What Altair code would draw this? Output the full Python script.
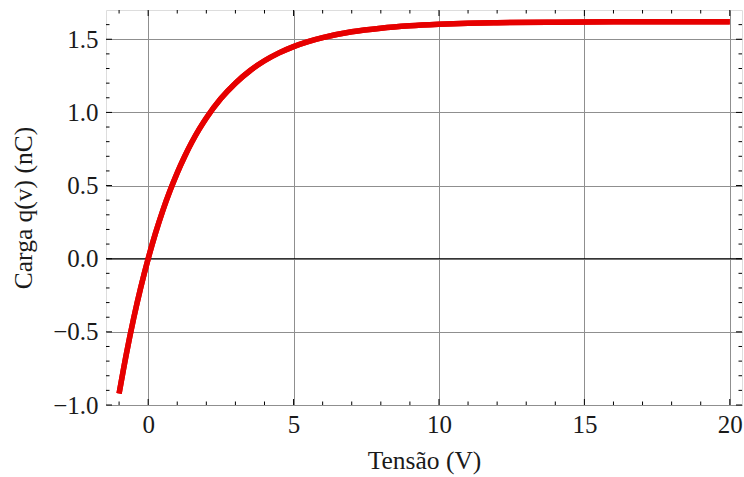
import altair as alt
import pandas as pd

# Charge on the capacitor versus applied voltage
voltage = [-1.0, -0.75, -0.5, -0.25, 0.0, 0.25, 0.5, 0.75, 1.0, 1.25, 1.5, 1.75,
           2.0, 2.5, 3.0, 3.5, 4.0, 4.5, 5.0, 5.5, 6.0, 7.0, 8.0, 9.0, 10.0,
           11.0, 12.0, 14.0, 16.0, 18.0, 20.0]
charge = [-0.922, -0.651, -0.409, -0.193, 0.0, 0.173, 0.327, 0.464, 0.587, 0.697,
          0.796, 0.884, 0.962, 1.095, 1.200, 1.285, 1.353, 1.407, 1.450, 1.484,
          1.511, 1.551, 1.576, 1.592, 1.602, 1.609, 1.613, 1.617, 1.619, 1.620, 1.620]

x_major = [0, 5, 10, 15, 20]
x_minor = [-1, 1, 2, 3, 4, 6, 7, 8, 9, 11, 12, 13, 14, 16, 17, 18, 19]
y_major = [-1.0, -0.5, 0.0, 0.5, 1.0, 1.5]
y_minor = [-0.9, -0.8, -0.7, -0.6, -0.4, -0.3, -0.2, -0.1, 0.1, 0.2, 0.3, 0.4,
           0.6, 0.7, 0.8, 0.9, 1.1, 1.2, 1.3, 1.4, 1.6]

W, H = 636, 395
FONT = "Liberation Serif"
X_DOMAIN = [-1.45, 20.42]
Y_DOMAIN = [-1.0, 1.70]

curve = pd.DataFrame({"v": voltage, "q": charge})

xs = alt.Scale(domain=X_DOMAIN, nice=False, zero=False)
ys = alt.Scale(domain=Y_DOMAIN, nice=False, zero=False)

axis_common = dict(
    grid=True, gridColor="#8f8f8f", gridWidth=1, domain=False, ticks=False,
    labelFont=FONT, labelFontSize=25, labelColor="#1a1a1a",
    titleFont=FONT, titleFontSize=25.5, titleFontWeight="normal", titleColor="#1a1a1a",
)

line = alt.Chart(curve).mark_line(
    color="#e60000", strokeWidth=5.5, interpolate="monotone", strokeCap="butt"
).encode(
    x=alt.X("v:Q", scale=xs, title="Tensão (V)",
            axis=alt.Axis(values=x_major, format="d", labelPadding=7, titlePadding=11,
                          **axis_common)),
    y=alt.Y("q:Q", scale=ys, title="Carga q(v) (nC)",
            axis=alt.Axis(values=y_major, format=".1f", labelPadding=8, titlePadding=16,
                          **axis_common)),
)

zero_line = alt.Chart(pd.DataFrame({"q": [0.0]})).mark_rule(
    color="black", strokeWidth=1
).encode(y=alt.Y("q:Q", scale=ys))


def x_ticks(values, length):
    df = pd.DataFrame({"v": values})
    bottom = alt.Chart(df).mark_rule(color="black", strokeWidth=1).encode(
        x=alt.X("v:Q", scale=xs), y=alt.value(H), y2=alt.value(H - length))
    top = alt.Chart(df).mark_rule(color="black", strokeWidth=1).encode(
        x=alt.X("v:Q", scale=xs), y=alt.value(0), y2=alt.value(length))
    return [bottom, top]


def y_ticks(values, length):
    df = pd.DataFrame({"q": values})
    left = alt.Chart(df).mark_rule(color="black", strokeWidth=1).encode(
        y=alt.Y("q:Q", scale=ys), x=alt.value(0), x2=alt.value(length))
    right = alt.Chart(df).mark_rule(color="black", strokeWidth=1).encode(
        y=alt.Y("q:Q", scale=ys), x=alt.value(W), x2=alt.value(W - length))
    return [left, right]


layers = [line, zero_line]
layers += x_ticks(x_major, 6) + x_ticks(x_minor, 3.5)
layers += y_ticks(y_major, 6) + y_ticks(y_minor, 3.5)
layers.append(line)

chart = alt.layer(*layers).properties(
    width=W, height=H,
    autosize=alt.AutoSizeParams(type="none"),
    padding={"left": 106, "top": 10, "right": 2, "bottom": 72},
).configure_view(
    stroke="black", strokeWidth=1.2
).configure(background="white")

chart.save("out.html", embed_options={"renderer": "svg", "actions": False})
